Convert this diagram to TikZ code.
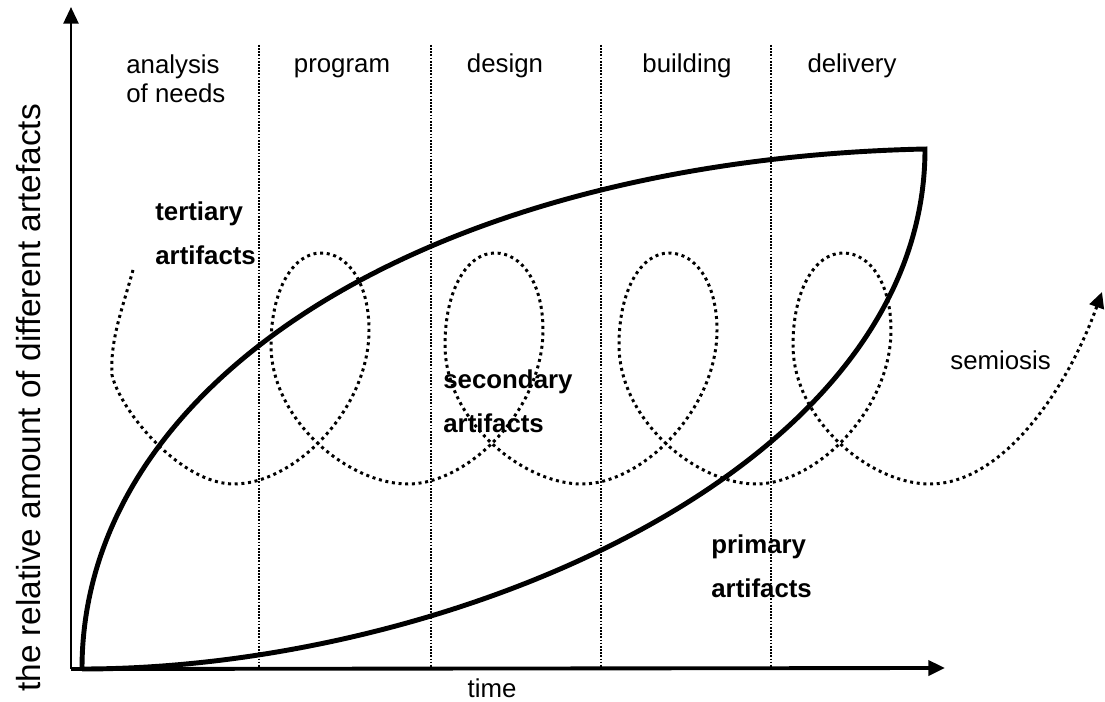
\documentclass[tikz,border=0pt]{standalone}
\usepackage{fontspec}
\setmainfont{Liberation Sans}
\usepackage{tikz}
\usetikzlibrary{arrows.meta}
\tikzset{axis/.style = {line width = 1.6pt, -{Triangle[length = 9.5pt, width = 8.5pt]}}}
\tikzset{phase/.style = {line width = 1.3pt, dash pattern = on 1pt off 0.8pt}}
\tikzset{amount/.style = {line width = 2.8pt}}
\tikzset{semio/.style = {line width = 1.7pt, dash pattern = on 1.7pt off 2.1pt,
                         -{Triangle[length = 9pt, width = 8.5pt]}}}
\tikzset{lbl/.style = {inner sep = 0, font = \fontsize{14.7}{17}\selectfont}}
\tikzset{blbl/.style = {inner sep = 0, align = left, font = \fontsize{14.7}{25.5}\selectfont\bfseries}}

\begin{document}
\begin{tikzpicture}[x = 0.02cm, y = -0.02cm]
    \useasboundingbox (0, 0) rectangle (1105, 702);

    \coordinate (O) at (71, 669);
    \coordinate (top) at (71, 7);
    \coordinate (right) at (945, 668);
    \coordinate (start) at (82, 669);
    \coordinate (peak) at (925, 149);

    % phases
    \foreach \x in {259, 431, 601, 771}
      \draw [phase] (\x, 45) -- (\x, 668);

    % axes
    \draw [axis] (O) -- (top);
    \draw [axis, line width = 2.2pt] (O) -- (right);

    % amount of artefacts
    \draw [amount] (start) .. controls (82, 380) and (430, 160) .. (peak)
                           .. controls (925, 470) and (450, 669) .. (start);

    % semiosis
    \draw [semio] (133, 270) .. controls (122, 310) and (110, 340) .. (112, 375)
                             .. controls (120, 410) and (180, 484) .. (234, 484)
      \foreach \c in {321, 495, 669, 843} {
        .. controls ({\c-27}, 484) and ({\c+48}, 410) .. ({\c+48}, 330)
        .. controls ({\c+48}, 285) and ({\c+28}, 253) .. (\c, 253)
        .. controls ({\c-28}, 253) and ({\c-50}, 290) .. ({\c-50}, 345)
        .. controls ({\c-50}, 420) and ({\c+27}, 484) .. ({\c+87}, 484)
      }
      .. controls (1000, 484) and (1065, 395) .. (1102, 292);

    \node [lbl, align = left, anchor = north west] (analysis) at (126, 54) {analysis\\of needs};
    \node [lbl, anchor = base] (program) at (342, 73) {program};
    \node [lbl, anchor = base] (design) at (505, 73) {design};
    \node [lbl, anchor = base] (building) at (687, 73) {building};
    \node [lbl, anchor = base] (delivery) at (852, 73) {delivery};

    \node [blbl, anchor = north west] (tertiary) at (155, 201) {tertiary\\artifacts};
    \node [blbl, anchor = north west] (secondary) at (443, 369) {secondary\\artifacts};
    \node [blbl, anchor = north west] (primary) at (711, 534) {primary\\artifacts};
    \node [lbl, anchor = base west] (semiosis) at (950, 370) {semiosis};

    \node [lbl, anchor = base] (time) at (492, 697) {time};
    \node [lbl, font = \fontsize{19}{22}\selectfont, rotate = 90, anchor = base]
      (amountlbl) at (40, 398) {the relative amount of different artefacts};
  \end{tikzpicture}
\end{document}
